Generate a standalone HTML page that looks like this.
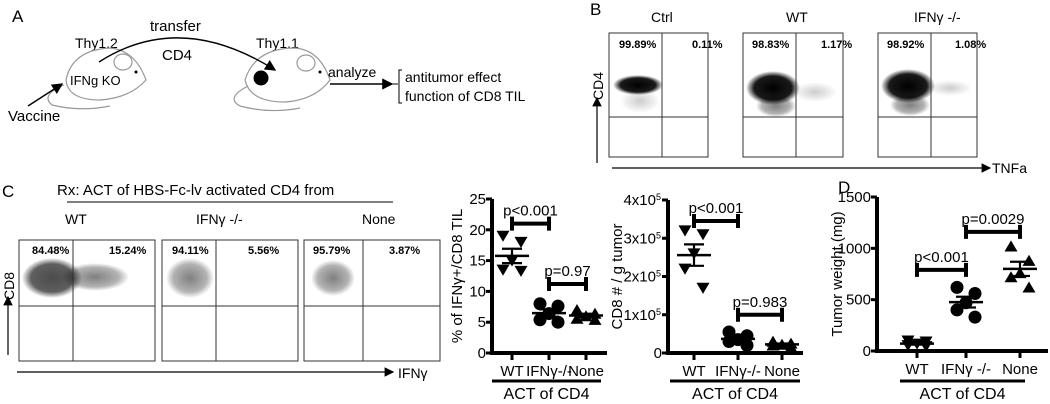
<!DOCTYPE html>
<html><head><meta charset="utf-8"><style>
body{margin:0;background:#fff}
svg{display:block;font-family:"Liberation Sans",sans-serif}
</style></head><body>
<svg id="fig" width="1050" height="404" viewBox="0 0 1050 404">
<defs>
<radialGradient id="blob" cx="50%" cy="50%" r="50%"><stop offset="0" stop-color="#000" stop-opacity="1"/><stop offset="0.7" stop-color="#000" stop-opacity="0.9"/><stop offset="1" stop-color="#000" stop-opacity="0"/></radialGradient>
<radialGradient id="sparse" cx="50%" cy="50%" r="50%"><stop offset="0" stop-color="#000" stop-opacity="0.5"/><stop offset="0.7" stop-color="#000" stop-opacity="0.3"/><stop offset="1" stop-color="#000" stop-opacity="0"/></radialGradient>
<radialGradient id="faint" cx="50%" cy="50%" r="50%"><stop offset="0" stop-color="#000" stop-opacity="0.2"/><stop offset="1" stop-color="#000" stop-opacity="0"/></radialGradient>
<marker id="ah" markerWidth="8" markerHeight="8" refX="7" refY="4" orient="auto"><path d="M0,0 L8,4 L0,8z" fill="#000"/></marker>
</defs>

<!-- Panel A -->
<g>
<text x="12" y="22" font-size="17">A</text>
<text x="150" y="31" font-size="15">transfer</text>
<text x="162" y="60" font-size="15">CD4</text>
<text x="75" y="48" font-size="14">Thy1.2</text>
<text x="256" y="48" font-size="14">Thy1.1</text>
<g fill="none" stroke="#999" stroke-width="1.2">
<path d="M66,80 Q72,50 110,48 Q135,50 146,80 Q130,98 100,100 Q68,100 66,80z" fill="#fff"/>
<ellipse cx="123" cy="62" rx="9" ry="8" fill="#fff"/>
<path d="M64,85 Q40,95 52,105 Q80,112 110,106"/>
</g>
<circle cx="136" cy="72" r="1.5" fill="#000"/>
<text x="70" y="85" font-size="13">IFNg KO</text>
<g fill="none" stroke="#999" stroke-width="1.2">
<path d="M245,80 Q255,48 295,48 Q320,50 330,80 Q315,100 285,102 Q250,102 245,80z" fill="#fff"/>
<ellipse cx="306" cy="63" rx="9" ry="8" fill="#fff"/>
<path d="M248,86 Q225,98 240,106 Q270,114 300,108"/>
</g>
<circle cx="320" cy="72" r="1.5" fill="#000"/>
<circle cx="261" cy="78" r="7.5" fill="#000"/>
<path d="M99,62 Q180,10 275,70" fill="none" stroke="#000" stroke-width="1.4" marker-end="url(#ah)"/>
<text x="8" y="121" font-size="15">Vaccine</text>
<line x1="28" y1="106" x2="62" y2="84" stroke="#000" stroke-width="1.4" marker-end="url(#ah)"/>
<text x="328" y="77" font-size="14">analyze</text>
<line x1="330" y1="84" x2="392" y2="84" stroke="#000" stroke-width="1.4" marker-end="url(#ah)"/>
<path d="M392,84 H398 M402,70 H399 V103 H402" fill="none" stroke="#000" stroke-width="1"/>
<text x="405" y="82" font-size="14">antitumor effect</text>
<text x="405" y="101" font-size="14">function of CD8 TIL</text>
</g>

<!-- Panel B -->
<g font-size="11" font-weight="bold">
<text x="590" y="15" font-size="17" font-weight="normal">B</text>
<text x="651" y="22" font-size="14" font-weight="normal">Ctrl</text>
<text x="786" y="22" font-size="14" font-weight="normal">WT</text>
<text x="914" y="22" font-size="14" font-weight="normal">IFNγ -/-</text>
<ellipse cx="638" cy="85" rx="25" ry="10" fill="url(#blob)"/>
<ellipse cx="640" cy="101" rx="20" ry="12" fill="url(#faint)"/>
<ellipse cx="773" cy="88" rx="27" ry="17" fill="url(#blob)"/>
<ellipse cx="776" cy="106" rx="20" ry="11" fill="url(#sparse)"/>
<ellipse cx="815" cy="92" rx="22" ry="10" fill="url(#faint)"/>
<ellipse cx="908" cy="86" rx="27" ry="17" fill="url(#blob)"/>
<ellipse cx="910" cy="105" rx="20" ry="11" fill="url(#sparse)"/>
<ellipse cx="950" cy="88" rx="22" ry="8" fill="url(#faint)"/>
<g fill="none" stroke="#333" stroke-width="1">
<rect x="609" y="33" width="99" height="124"/>
<line x1="662" y1="33" x2="662" y2="157"/><line x1="609" y1="117" x2="708" y2="117"/>
<rect x="743" y="33" width="100" height="124"/>
<line x1="796" y1="33" x2="796" y2="157"/><line x1="743" y1="117" x2="843" y2="117"/>
<rect x="878" y="33" width="99" height="124"/>
<line x1="931" y1="33" x2="931" y2="157"/><line x1="878" y1="117" x2="977" y2="117"/>
</g>
<text x="619" y="48">99.89%</text><text x="692" y="48">0.11%</text>
<text x="752" y="48">98.83%</text><text x="821" y="48">1.17%</text>
<text x="887" y="48">98.92%</text><text x="955" y="48">1.08%</text>
<line x1="597" y1="163" x2="597" y2="98" stroke="#000" stroke-width="1.2" marker-end="url(#ah)"/>
<text transform="translate(603,100) rotate(-90)" font-size="14" font-weight="normal">CD4</text>
<line x1="612" y1="168" x2="990" y2="168" stroke="#000" stroke-width="1.2" marker-end="url(#ah)"/>
<text x="992" y="173" font-size="14" font-weight="normal">TNFa</text>
</g>

<!-- Panel C flow -->
<g font-size="11" font-weight="bold">
<text x="2" y="197" font-size="17" font-weight="normal">C</text>
<text x="57" y="195" font-size="15" font-weight="normal">Rx: ACT of HBS-Fc-lv activated CD4 from</text>
<line x1="67" y1="202" x2="393" y2="202" stroke="#000" stroke-width="1"/>
<text x="65" y="224" font-size="14" font-weight="normal">WT</text>
<text x="196" y="224" font-size="14" font-weight="normal">IFNγ -/-</text>
<text x="362" y="224" font-size="14" font-weight="normal">None</text>
<ellipse cx="52" cy="278" rx="30" ry="20" fill="url(#blob)" opacity="0.7"/>
<ellipse cx="95" cy="277" rx="34" ry="14" fill="url(#sparse)"/>
<ellipse cx="190" cy="278" rx="24" ry="20" fill="url(#sparse)"/>
<ellipse cx="333" cy="278" rx="22" ry="18" fill="url(#sparse)"/>
<g fill="none" stroke="#333" stroke-width="1">
<rect x="19" y="240" width="136" height="121"/>
<line x1="73" y1="240" x2="73" y2="361"/><line x1="19" y1="306" x2="155" y2="306"/>
<rect x="162" y="240" width="136" height="121"/>
<line x1="216" y1="240" x2="216" y2="361"/><line x1="162" y1="306" x2="298" y2="306"/>
<rect x="304" y="240" width="136" height="121"/>
<line x1="363" y1="240" x2="363" y2="361"/><line x1="304" y1="306" x2="440" y2="306"/>
</g>
<text x="32" y="254">84.48%</text><text x="109" y="254">15.24%</text>
<text x="172" y="254">94.11%</text><text x="248" y="254">5.56%</text>
<text x="313" y="254">95.79%</text><text x="389" y="254">3.87%</text>
<line x1="8" y1="355" x2="8" y2="297" stroke="#000" stroke-width="1.2" marker-end="url(#ah)"/>
<text transform="translate(14,300) rotate(-90)" font-size="14" font-weight="normal">CD8</text>
<line x1="17" y1="372" x2="393" y2="372" stroke="#000" stroke-width="1.2" marker-end="url(#ah)"/>
<text x="398" y="378" font-size="14" font-weight="normal">IFNγ</text>
</g>
<text x="838" y="193" font-size="17">D</text>
<g id="charts"></g>
</svg>
<script>
// Graph 1: % IFNg+/CD8 TIL
const g1Cats = ["WT", "IFNγ-/-", "None"];
const g1WT = [19, 18, 15, 13.5, 13.3];
const g1IFN = [8, 7.6, 6.4, 5.4, 5];
const g1None = [7, 6.4, 6, 5.6, 5.4];
const g1Ticks = [0, 5, 10, 15, 20, 25];
const g1TickLabels = ["0", "5", "10", "15", "20", "25"];
const g1Brackets = [[0, 1, 21, "p<0.001"], [1, 2, 11.2, "p=0.97"]];
// Graph 2: CD8 # / g tumor (x1e5)
const g2Cats = ["WT", "IFNγ-/-", "None"];
const g2WT = [3.2, 3.1, 2.6, 2.2, 1.7];
const g2IFN = [0.55, 0.45, 0.35, 0.3, 0.2];
const g2None = [0.3, 0.25, 0.22, 0.2, 0.15];
const g2Ticks = [0, 1, 2, 3, 4];
const g2TickLabels = ["0", "1x10", "2x10", "3x10", "4x10"];
const g2Brackets = [[0, 1, 3.45, "p<0.001"], [1, 2, 1.0, "p=0.983"]];
// Graph D: tumor weight (mg)
const gdCats = ["WT", "IFNγ -/-", "None"];
const gdWT = [100, 90, 70, 55, 45];
const gdIFN = [620, 560, 470, 400, 330];
const gdNone = [1020, 880, 760, 720, 620];
const gdTicks = [0, 500, 1000, 1500];
const gdTickLabels = ["0", "500", "1000", "1500"];
const gdBrackets = [[0, 1, 790, "p<0.001"], [1, 2, 1160, "p=0.0029"]];

const NS = "http://www.w3.org/2000/svg";
const root = document.getElementById("charts");
function mk(tag, attrs, parent, txt) {
  const e = document.createElementNS(NS, tag);
  for (const k in attrs) e.setAttribute(k, attrs[k]);
  if (txt !== undefined) e.textContent = txt;
  parent.appendChild(e);
  return e;
}
function mean(a) { return a.reduce((s, v) => s + v, 0) / a.length; }
function sem(a) { const m = mean(a); return Math.sqrt(a.reduce((s, v) => s + (v - m) * (v - m), 0) / (a.length - 1)) / Math.sqrt(a.length); }
function marker(g, shape, x, y) {
  const r = 6.5;
  if (shape === "down") return mk("path", { d: `M${x - r},${y - r * 0.8} L${x + r},${y - r * 0.8} L${x},${y + r * 0.9}z`, fill: "#000" }, g);
  if (shape === "up") return mk("path", { d: `M${x - r},${y + r * 0.8} L${x + r},${y + r * 0.8} L${x},${y - r * 0.9}z`, fill: "#000" }, g);
  return mk("circle", { cx: x, cy: y, r: r, fill: "#000" }, g);
}
function drawGraph(name, ax, y0, y1, vmax, xEnd, tickX, cats, groups, ticks, tickLabels, brackets, yTitle, titleX, sup, barX0, barX1) {
  const g = mk("g", {}, root);
  
  
  const Y = v => y0 - (v / vmax) * (y0 - y1);
  const axis = mk("path", { d: `M${ax},${y1} V${y0} H${xEnd}`, fill: "none", stroke: "#000", "stroke-width": 4 }, g);
  
  
  ticks.forEach((t, i) => {
    mk("line", { x1: ax - 6, x2: ax, y1: Y(t), y2: Y(t), stroke: "#000", "stroke-width": 3 }, g);
    const tl = mk("text", { x: ax - 6, y: Y(t) + 5, "font-size": 15, "text-anchor": "end" }, g, tickLabels[i]);
    
    
    if (sup && t > 0) {
      tl.setAttribute("dx", "-6");
      const s = mk("text", { x: ax - 6, y: Y(t), "font-size": 9 }, g, "5");
      s.setAttribute("dx", "-6");
      
      
    }
  });
  cats.forEach((c, i) => {
    const x = tickX[i];
    mk("line", { x1: x, x2: x, y1: y0, y2: y0 + 7, stroke: "#000", "stroke-width": 3 }, g);
    const cl = mk("text", { x: x, y: y0 + 23, "font-size": 15, "text-anchor": "middle" }, g, c);
    
    
  });
  groups.forEach((gr, i) => {
    const x = tickX[i];
    const off = [-9, 9, 0, -9, 9];
    gr.vals.forEach((v, j) => {
      const m = marker(g, gr.shape, x + off[j], Y(v));
      
      
    });
    const m = mean(gr.vals), s = sem(gr.vals);
    const ml = mk("line", { x1: x - 17, x2: x + 17, y1: Y(m), y2: Y(m), stroke: "#000", "stroke-width": 2.5 }, g);
    
    
    mk("path", { d: `M${x},${Y(m - s)} V${Y(m + s)} M${x - 10},${Y(m + s)} H${x + 10} M${x - 10},${Y(m - s)} H${x + 10}`, stroke: "#000", "stroke-width": 2.2, fill: "none" }, g);
  });
  brackets.forEach(b => {
    const xa = tickX[b[0]], xb = tickX[b[1]], y = Y(b[2]);
    const br = mk("path", { d: `M${xa},${y - 7} V${y + 7} M${xa},${y} H${xb} M${xb},${y - 7} V${y + 7}`, stroke: "#000", "stroke-width": 4, fill: "none" }, g);
    
    
    const pl = mk("text", { x: (xa + xb) / 2, y: y - 8, "font-size": 15, "text-anchor": "middle" }, g, b[3]);
    
    
  });
  const yt = mk("text", { transform: `translate(${titleX},${(y0 + y1) / 2}) rotate(-90)`, "font-size": 15, "text-anchor": "middle" }, g, yTitle);
  
  
  mk("line", { x1: barX0, x2: barX1, y1: 381, y2: 381, stroke: "#000", "stroke-width": 3 }, g);
  const xt = mk("text", { x: (barX0 + barX1) / 2, y: 399, "font-size": 16, "text-anchor": "middle" }, g, "ACT of CD4");
  
  
}
drawGraph("ifng-cd8-chart", 492, 353, 199, 25, 607, [512, 549, 586], g1Cats,
  [{ vals: g1WT, shape: "down" }, { vals: g1IFN, shape: "circle" }, { vals: g1None, shape: "up" }],
  g1Ticks, g1TickLabels, g1Brackets, "% of IFNγ+/CD8 TIL", 462, false, 492, 601);
drawGraph("cd8-count-chart", 668, 353, 200, 4, 803, [694, 738, 782], g2Cats,
  [{ vals: g2WT, shape: "down" }, { vals: g2IFN, shape: "circle" }, { vals: g2None, shape: "up" }],
  g2Ticks, g2TickLabels, g2Brackets, "CD8 # / g tumor", 622, true, 670, 800);
drawGraph("tumor-weight-chart", 877, 351, 197, 1500, 1048, [917, 966, 1020], gdCats,
  [{ vals: gdWT, shape: "down" }, { vals: gdIFN, shape: "circle" }, { vals: gdNone, shape: "up" }],
  gdTicks, gdTickLabels, gdBrackets, "Tumor weight (mg)", 842, false, 900, 1025);
</script>
</body></html>
